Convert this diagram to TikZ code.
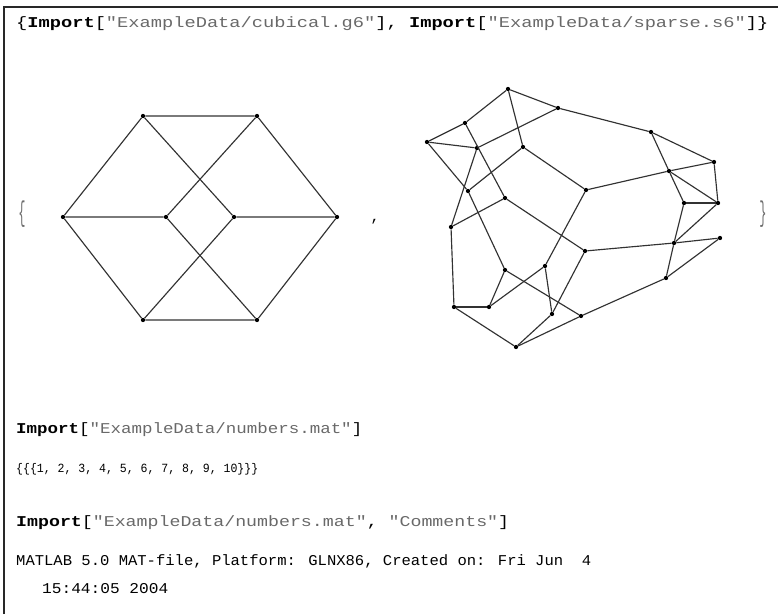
\documentclass[tikz,border=0pt]{standalone}
\usepackage{fontspec}
\newfontfamily\mono{Liberation Mono}
\definecolor{strc}{RGB}{105,105,105}
\definecolor{edgec}{RGB}{50,50,50}
\definecolor{framec}{RGB}{40,40,40}
\definecolor{bracec}{RGB}{110,110,110}
\newcommand{\fl}[2]{\scalebox{#1}[1]{\mono\fontsize{15}{15}\selectfont #2}}
\newcommand{\fls}[3]{\scalebox{#2}[1]{\mono\fontsize{#1}{#1}\selectfont #3}}
\begin{document}
\begin{tikzpicture}[x=1pt,y=-1pt,
  gedge/.style={draw=edgec,line width=1.15pt},
  vdot/.style={circle,fill=black,inner sep=0pt,minimum size=4.3pt},
  txt/.style={anchor=base west,inner sep=0pt}]
\useasboundingbox (0,0) rectangle (778,614);
% frame
\coordinate (f1) at (4,614);
\coordinate (f2) at (4,7);
\coordinate (f3) at (778,7);
\draw[framec,line width=1.5pt] (f1) -- (f2) -- (f3);
% text lines
\node[txt] (t1) at (16,27) {\fl{1.247}{\{\textbf{Import}[\textcolor{strc}{"ExampleData/cubical.g6"}], \textbf{Import}[\textcolor{strc}{"ExampleData/sparse.s6"}]\}}};
\node[txt] (t2) at (16,433) {\fl{1.165}{\textbf{Import}[\textcolor{strc}{"ExampleData/numbers.mat"}]}};
\node[txt] (t3) at (16,472) {\fls{12.5}{0.922}{\{\{\{1, 2, 3, 4, 5, 6, 7, 8, 9, 10\}\}\}}};
\node[txt] (t4) at (16,526) {\fl{1.217}{\textbf{Import}[\textcolor{strc}{"ExampleData/numbers.mat"}, \textcolor{strc}{"Comments"}]}};
\node[txt] (t5) at (16,565) {\fl{1.036}{MATLAB 5.0 MAT-file, Platform: GLNX86, Created on: Fri Jun\ \ 4}};
\node[txt] (t6) at (42,593) {\fl{1.077}{15:44:05 2004}};
% braces and comma
\node[inner sep=0pt,text=bracec] (lb) at (22,214) {\scalebox{0.8}[1.9]{\mono\fontsize{15}{15}\selectfont \{}};
\node[inner sep=0pt,text=bracec] (rb) at (763,214) {\scalebox{0.8}[1.9]{\mono\fontsize{15}{15}\selectfont \}}};
\node[inner sep=0pt] (cm) at (375,222) {\mono\fontsize{15}{15}\selectfont ,};
% cubical graph
\node[vdot] (c1) at (143,116) {};
\node[vdot] (c2) at (257,116) {};
\node[vdot] (c3) at (63,217) {};
\node[vdot] (c4) at (166,217) {};
\node[vdot] (c5) at (234,217) {};
\node[vdot] (c6) at (337,217) {};
\node[vdot] (c7) at (143,320) {};
\node[vdot] (c8) at (257,320) {};
\draw[gedge] (c1) -- (c2) (c1) -- (c3) (c2) -- (c6) (c3) -- (c7) (c6) -- (c8) (c7) -- (c8)
  (c3) -- (c4) (c5) -- (c6) (c1) -- (c5) (c2) -- (c4) (c7) -- (c5) (c8) -- (c4);
% sparse graph
\foreach \n/\x/\y in {A/508/89,B/558/108,C/465/123,D/427/142,E/477/148,F/523/147,G/468/191,
  H/505/198,I/651/132,J/714/162,K/669/171,L/586/190,M/684/203,N/718/203,O/451/227,P/505/270,
  Q/545/266,R/454/307,S/489/307,T/552/314,U/516/347,V/674/243,W/720/238,X/585/251,Y/666/278,Z/581/316}
  {\node[vdot] (\n) at (\x,\y) {};}
\foreach \a/\b in {A/B,B/I,A/C,A/F,C/D,D/E,C/H,E/B,E/O,D/G,G/F,G/P,F/L,H/O,H/X,L/Q,L/K,K/J,
  I/J,I/K,K/M,K/N,J/N,M/N,M/V,N/V,V/W,X/V,V/Y,W/Y,X/T,P/S,P/Z,S/Q,Q/T,R/S,O/R,R/U,U/T,U/Z,Z/Y}
  {\draw[gedge] (\a) -- (\b);}
\end{tikzpicture}
\end{document}
